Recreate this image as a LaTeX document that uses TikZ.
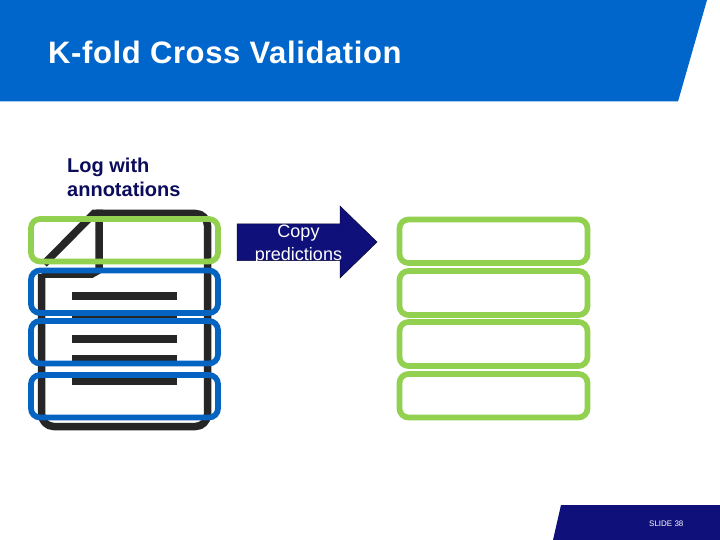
\documentclass[tikz,border=0pt]{standalone}
\usepackage{fontspec}
\setmainfont{Liberation Sans}
\newfontface\titleface[LetterSpace=2]{Liberation Sans Bold}
\newfontface\labelface{Liberation Sans Bold}
\definecolor{hdrblue}{HTML}{0066CC}
\definecolor{navy}{HTML}{10107A}
\definecolor{fold}{HTML}{92D050}
\definecolor{foldblue}{HTML}{0563C1}
\definecolor{ink}{HTML}{262626}
\tikzset{
  band/.style={draw, line width=5.7pt, rounded corners=9pt},
  greenband/.style={band, draw=fold},
  blueband/.style={band, draw=foldblue},
  docline/.style={draw=ink, line width=7.5pt},
  txt/.style={inner sep=0pt, anchor=base west}
}
\begin{document}
\begin{tikzpicture}[x=1pt,y=-1pt]
\useasboundingbox (0,0) rectangle (720,540);
\fill[white] (0,0) rectangle (720,540);
% header and footer
\fill[hdrblue] (0,0) -- (707,0) -- (678,101.5) -- (0,101.5) -- cycle;
\fill[navy] (561,505) -- (720,505) -- (720,540) -- (553,540) -- cycle;
\node[txt, text=white, font=\titleface\fontsize{31}{38}\selectfont] (title) at (48,64) {K-fold Cross Validation};
\node[txt, text=white, font=\fontsize{8}{10}\selectfont] (slide) at (649,526) {SLIDE 38};
% label
\node[txt, text=navy!75!black, font=\labelface\fontsize{20}{24}\selectfont] (log) at (67,172.7) {Log with};
\node[txt, text=navy!75!black, font=\labelface\fontsize{20}{24}\selectfont] (ann) at (67,196.5) {annotations};
% document icon
\draw[docline, rounded corners=12pt, line join=round]
  (96,213.5) -- (207.5,213.5) -- (207.5,426.5) -- (41.7,426.5) -- (41.7,274) ;
\draw[docline] (41.7,274) -- (92,274) -- (99,270) -- (99,213.5) -- (94,213.5) -- (44,264);
\foreach \y in {296,317,339,359,381}
  \draw[docline, line width=8pt] (72,\y) -- (177,\y);
% left bands
\draw[blueband] (31,270.5) rectangle (218,313);
\draw[blueband] (31,321) rectangle (218,363.5);
\draw[blueband] (31,375) rectangle (218,417.5);
\draw[greenband] (31,219) rectangle (218,261.5);
% arrow
\fill[navy, draw=black!60!navy, line width=0.5pt] (237,224) -- (340,224) -- (340,206) -- (377,242) -- (340,278) -- (340,260.5) -- (237,260.5) -- cycle;
\node[text=white, inner sep=0pt, anchor=base, font=\fontsize{18}{21}\selectfont] (copy) at (298.5,237) {Copy};
\node[text=white, inner sep=0pt, anchor=base, font=\fontsize{18}{21}\selectfont] (pred) at (298.5,260) {predictions};
% right bands
\draw[greenband] (399.5,219.5) rectangle (587.5,263);
\draw[greenband] (399.5,271) rectangle (587.5,315);
\draw[greenband] (399.5,322) rectangle (587.5,366);
\draw[greenband] (399.5,374) rectangle (587.5,417.5);
\end{tikzpicture}
\end{document}
